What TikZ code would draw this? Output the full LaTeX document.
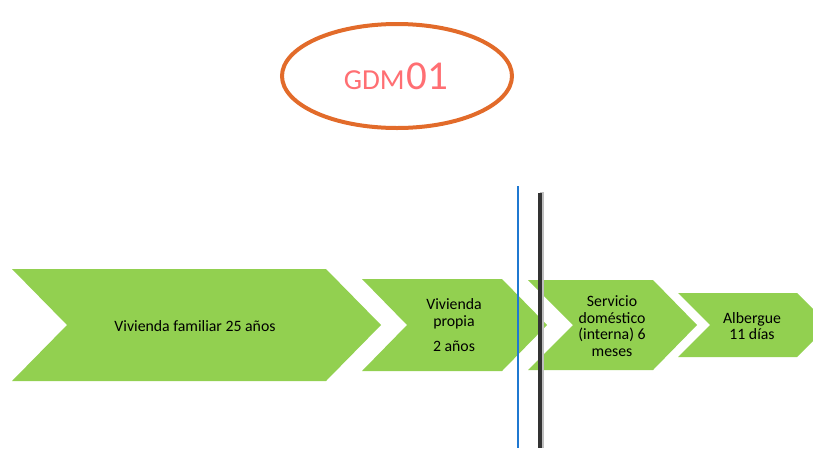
\documentclass[tikz,border=0pt]{standalone}
\usepackage{fontspec}
\setmainfont{Carlito}
\usetikzlibrary{shapes.geometric}
\definecolor{chev}{HTML}{92D050}
\definecolor{ell}{HTML}{E26B2A}
\definecolor{gdm}{HTML}{FF6F73}
\definecolor{bline}{HTML}{1F78D1}
\definecolor{kline}{HTML}{333333}
\tikzset{
  chevfill/.style={fill=chev, draw=none},
  chevtext/.style={align=center, font=\fontsize{15.8}{16.7}\selectfont, text=black, inner sep=0pt},
}
\begin{document}
\begin{tikzpicture}[x=1pt,y=-1pt]
\useasboundingbox (0,0) rectangle (813,448);
\begin{scope}
\clip (0,0) rectangle (813,448);
% chevrons
\fill[chevfill] (12,269) -- (326,269) -- (381,325) -- (326,381) -- (12,381) -- (67,325) -- cycle;
\fill[chevfill] (362,279) -- (502,279) -- (547,325) -- (502,371) -- (362,371) -- (407,325) -- cycle;
\fill[chevfill] (528,280) -- (653,280) -- (697,325) -- (653,370) -- (528,370) -- (573,325) -- cycle;
\fill[chevfill] (678,293) -- (797,293) -- (829,325) -- (797,357) -- (678,357) -- (710,325) -- cycle;
\end{scope}
\node[chevtext] (t1) at (195,326) {Vivienda familiar 25 años};
\node[chevtext] (t2) at (454,314) {Vivienda\\propia};
\node[chevtext] (t2b) at (454,346) {2 años};
\node[chevtext] (t3) at (612,326) {Servicio\\doméstico\\(interna) 6\\meses};
\node[chevtext] (t4) at (752,326) {Albergue\\11 días};
% vertical lines
\coordinate (b1) at (518,186);
\coordinate (b2) at (518,448);
\coordinate (k1) at (540,193);
\coordinate (k2) at (540,448);
\draw[bline, line width=1.4pt] (b1) -- (b2);
\draw[black!25, line width=4pt] ([xshift=1.5pt,yshift=1pt]k1) -- ([xshift=1.5pt]k2);
\draw[kline, line width=4pt] (k1) -- (k2);
% ellipse
\node[ellipse, draw=ell, line width=4pt, minimum width=230pt, minimum height=104pt, inner sep=0pt] (e) at (397,76) {};
\node[text=gdm, inner sep=0pt, anchor=base] (lbl) at (396,89) {\fontsize{29}{29}\selectfont GDM\kern2pt\fontsize{41}{41}\selectfont 01};
\end{tikzpicture}
\end{document}
